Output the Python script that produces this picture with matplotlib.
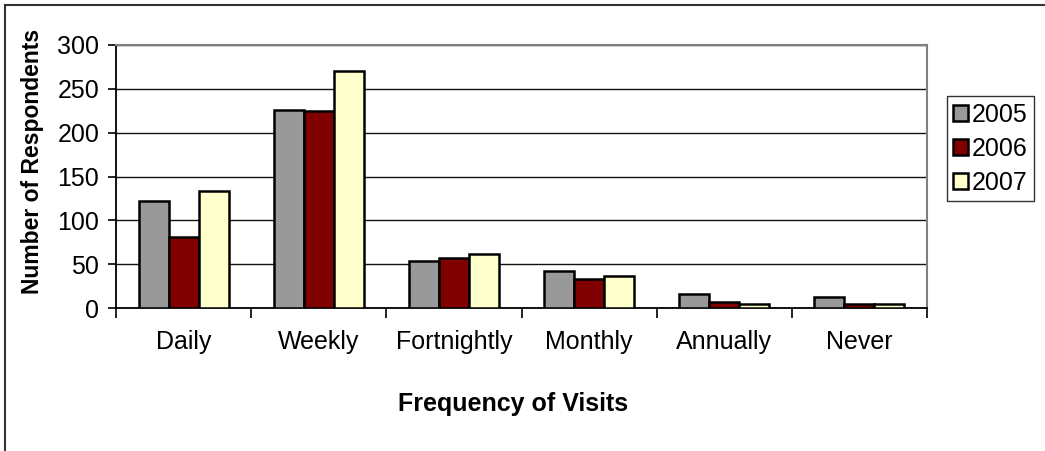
import numpy as np
import matplotlib.pyplot as plt
from matplotlib.lines import Line2D

categories = ['Daily', 'Weekly', 'Fortnightly', 'Monthly', 'Annually', 'Never']
years = ['2005', '2006', '2007']
v2005 = [122, 226, 54, 42, 16, 13]
v2006 = [81, 225, 57, 33, 7, 5]
v2007 = [134, 270, 62, 37, 4, 5]
colors = ['#999999', '#800000', '#ffffcc']

plt.rcParams['font.family'] = ['Liberation Sans', 'DejaVu Sans']

fig = plt.figure(figsize=(10.45, 4.51), dpi=100)
ax = fig.add_axes([116 / 1045, 1 - 308 / 451, 811 / 1045, 263 / 451])

x = np.arange(len(categories))
w = 1 / 4.5
for i, (vals, c, lab) in enumerate(zip([v2005, v2006, v2007], colors, years)):
    ax.bar(x + (i - 1) * w, vals, w, color=c, edgecolor='black', linewidth=1.8,
           label=lab, zorder=3)

ax.set_xlim(-0.5, len(categories) - 0.5)
ax.set_ylim(0, 300)
ax.set_yticks(range(0, 301, 50))
ax.yaxis.grid(True, color='#111111', linewidth=1.0, zorder=0)
ax.set_xticks(x)
ax.set_xticklabels(categories, fontsize=18)
ax.set_xticks(np.arange(-0.5, len(categories), 1), minor=True)
ax.tick_params(axis='x', which='major', length=0, pad=16)
ax.tick_params(axis='x', which='minor', length=7, width=1.2, direction='out')
ax.tick_params(axis='y', length=6, width=1.2, direction='out', labelsize=18, pad=6)

ax.spines['left'].set_color('black')
ax.spines['left'].set_linewidth(1.3)
ax.spines['bottom'].set_color('black')
ax.spines['bottom'].set_linewidth(1.3)
ax.spines['top'].set_color('#808080')
ax.spines['top'].set_linewidth(1.5)
ax.spines['right'].set_color('#808080')
ax.spines['right'].set_linewidth(1.5)

fig.text(33 / 1045, 1 - 161 / 451, 'Number of Respondents', rotation=90,
         ha='center', va='center', fontsize=16.5, fontweight='bold')
fig.text(513 / 1045, 1 - 404 / 451, 'Frequency of Visits',
         ha='center', va='center', fontsize=18, fontweight='bold')

leg = ax.legend(loc='center left', bbox_to_anchor=(947 / 1045, 1 - 148.5 / 451),
                bbox_transform=fig.transFigure, frameon=True, fancybox=False,
                edgecolor='black', fontsize=18, handlelength=0.6, handleheight=0.6,
                handletextpad=0.15, borderpad=0.25, labelspacing=0.4, borderaxespad=0)
leg.get_frame().set_linewidth(1.0)

fig.add_artist(Line2D([5 / 1045, 5 / 1045], [0, 1 - 5 / 451], color='#333333', linewidth=1.5))
fig.add_artist(Line2D([5 / 1045, 1], [1 - 5 / 451, 1 - 5 / 451], color='#333333', linewidth=1.5))

fig.savefig('out.png', dpi=100)
